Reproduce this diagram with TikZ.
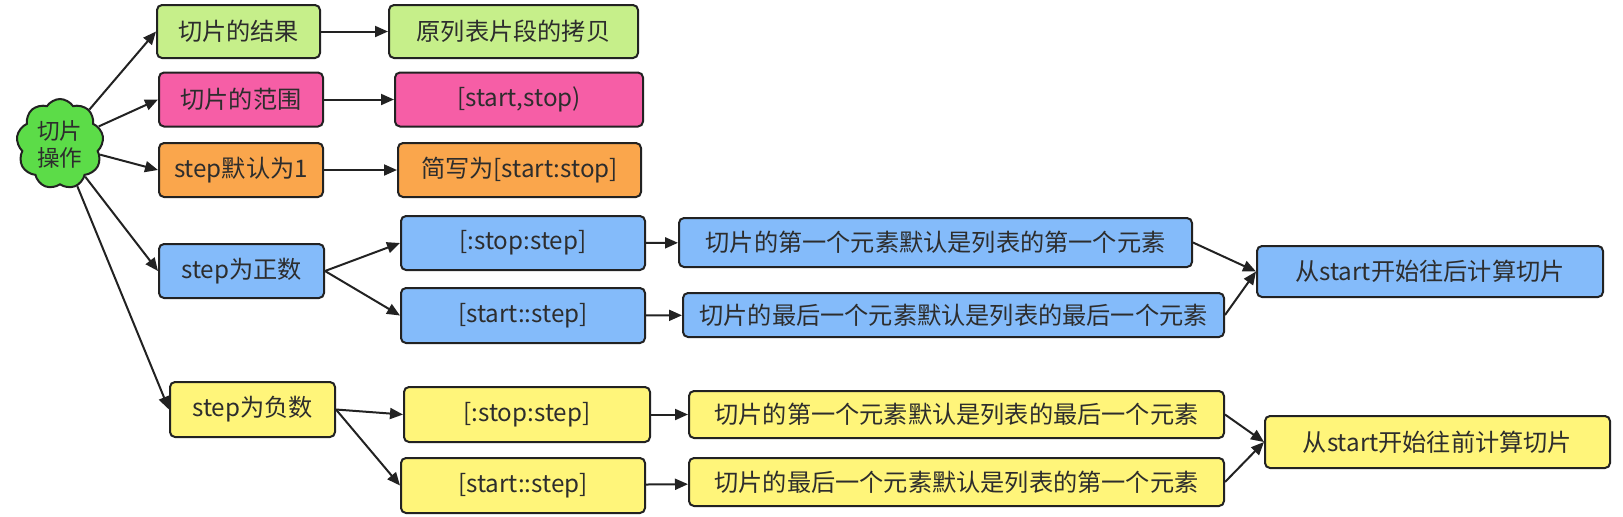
\documentclass[tikz,border=0pt]{standalone}
\usepackage{fontspec}
\setmainfont{Noto Sans CJK SC}
\usetikzlibrary{arrows.meta,shapes.symbols}
\definecolor{cgreen}{RGB}{198,239,138}
\definecolor{cpink}{RGB}{246,94,166}
\definecolor{corange}{RGB}{250,166,76}
\definecolor{cblue}{RGB}{132,187,250}
\definecolor{cyellow}{RGB}{255,245,122}
\definecolor{ccloud}{RGB}{92,220,72}
\definecolor{cline}{RGB}{34,34,34}
\definecolor{ctext}{RGB}{45,45,45}
\tikzset{
  bx/.style={draw=cline, line width=1pt, rounded corners=2.5pt, inner sep=0pt,
    align=center, text=ctext, font=\fontsize{12.1}{14}\selectfont},
  conn/.style={draw=cline, line width=1pt, -{Triangle[length=6.5pt,width=5.5pt]}},
}
\begin{document}
\begin{tikzpicture}[x=0.5pt,y=-0.5pt]
\useasboundingbox (0,0) rectangle (1623,516);
% root cloud
\node[cloud, cloud puffs=9, cloud puff arc=115, aspect=1, draw=cline, line width=1pt,
  fill=ccloud, minimum width=43.5pt, minimum height=45pt, inner sep=0pt] (root) at (60,144) {};
\node[text=ctext, align=center, font=\fontsize{11.3}{13.5}\selectfont] (roottext) at (60,144) {切片\\操作};
% row 1
\node[bx, fill=cgreen, minimum width=81.5pt, minimum height=26.5pt] (g1) at (238.5,31.5) {切片的结果};
\node[bx, fill=cgreen, minimum width=124.5pt, minimum height=26.5pt] (g2) at (513.5,31.5) {原列表片段的拷贝};
% row 2
\node[bx, fill=cpink, minimum width=82pt, minimum height=27pt] (p1) at (241,99.5) {切片的范围};
\node[bx, fill=cpink, minimum width=124pt, minimum height=27pt] (p2) at (519,99.5) {[start,stop)};
% row 3
\node[bx, fill=corange, minimum width=82pt, minimum height=27pt] (o1) at (241,170) {step默认为1};
\node[bx, fill=corange, minimum width=121.5pt, minimum height=27pt] (o2) at (519.5,170) {简写为[start:stop]};
% blue
\node[bx, fill=cblue, minimum width=82.5pt, minimum height=27pt] (b0) at (241.5,271) {step为正数};
\node[bx, fill=cblue, minimum width=122pt, minimum height=27pt] (b1) at (523,243) {[:stop:step]};
\node[bx, fill=cblue, minimum width=122pt, minimum height=27.5pt] (b2) at (523,315.5) {[start::step]};
\node[bx, fill=cblue, minimum width=256.5pt, minimum height=24.5pt] (b3) at (935.5,242.5) {切片的第一个元素默认是列表的第一个元素};
\node[bx, fill=cblue, minimum width=270.5pt, minimum height=22pt] (b4) at (953.5,315) {切片的最后一个元素默认是列表的最后一个元素};
\node[bx, fill=cblue, minimum width=173pt, minimum height=25.5pt] (b5) at (1430,271.5) {从start开始往后计算切片};
% yellow
\node[bx, fill=cyellow, minimum width=82.5pt, minimum height=27.5pt] (y0) at (252.5,409.5) {step为负数};
\node[bx, fill=cyellow, minimum width=123pt, minimum height=27.5pt] (y1) at (527,414.5) {[:stop:step]};
\node[bx, fill=cyellow, minimum width=122pt, minimum height=27.5pt] (y2) at (523,485.5) {[start::step]};
\node[bx, fill=cyellow, minimum width=267.5pt, minimum height=23.5pt] (y3) at (956.5,414.5) {切片的第一个元素默认是列表的最后一个元素};
\node[bx, fill=cyellow, minimum width=267.5pt, minimum height=24pt] (y4) at (956.5,482) {切片的最后一个元素默认是列表的第一个元素};
\node[bx, fill=cyellow, minimum width=172.5pt, minimum height=26pt] (y5) at (1437.5,442) {从start开始往前计算切片};
% connectors
\draw[conn] (root) -- (g1.west);
\draw[conn] (root) -- (p1.west);
\draw[conn] (root) -- (o1.west);
\draw[conn] (root) -- (b0.west);
\draw[conn] (root) -- (y0.west);
\draw[conn] (g1) -- (g2);
\draw[conn] (p1) -- (p2);
\draw[conn] (o1) -- (o2);
\draw[conn] (b0.east) -- (b1.west);
\draw[conn] (b0.east) -- (b2.west);
\draw[conn] (b1) -- (b3);
\draw[conn] (b2) -- (b4);
\draw[conn] (b3.east) -- (b5.west);
\draw[conn] (b4.east) -- (b5.west);
\draw[conn] (y0.east) -- (y1.west);
\draw[conn] (y0.east) -- (y2.west);
\draw[conn] (y1) -- (y3);
\draw[conn] (y2) -- (y4);
\draw[conn] (y3.east) -- (y5.west);
\draw[conn] (y4.east) -- (y5.west);
\end{tikzpicture}
\end{document}
